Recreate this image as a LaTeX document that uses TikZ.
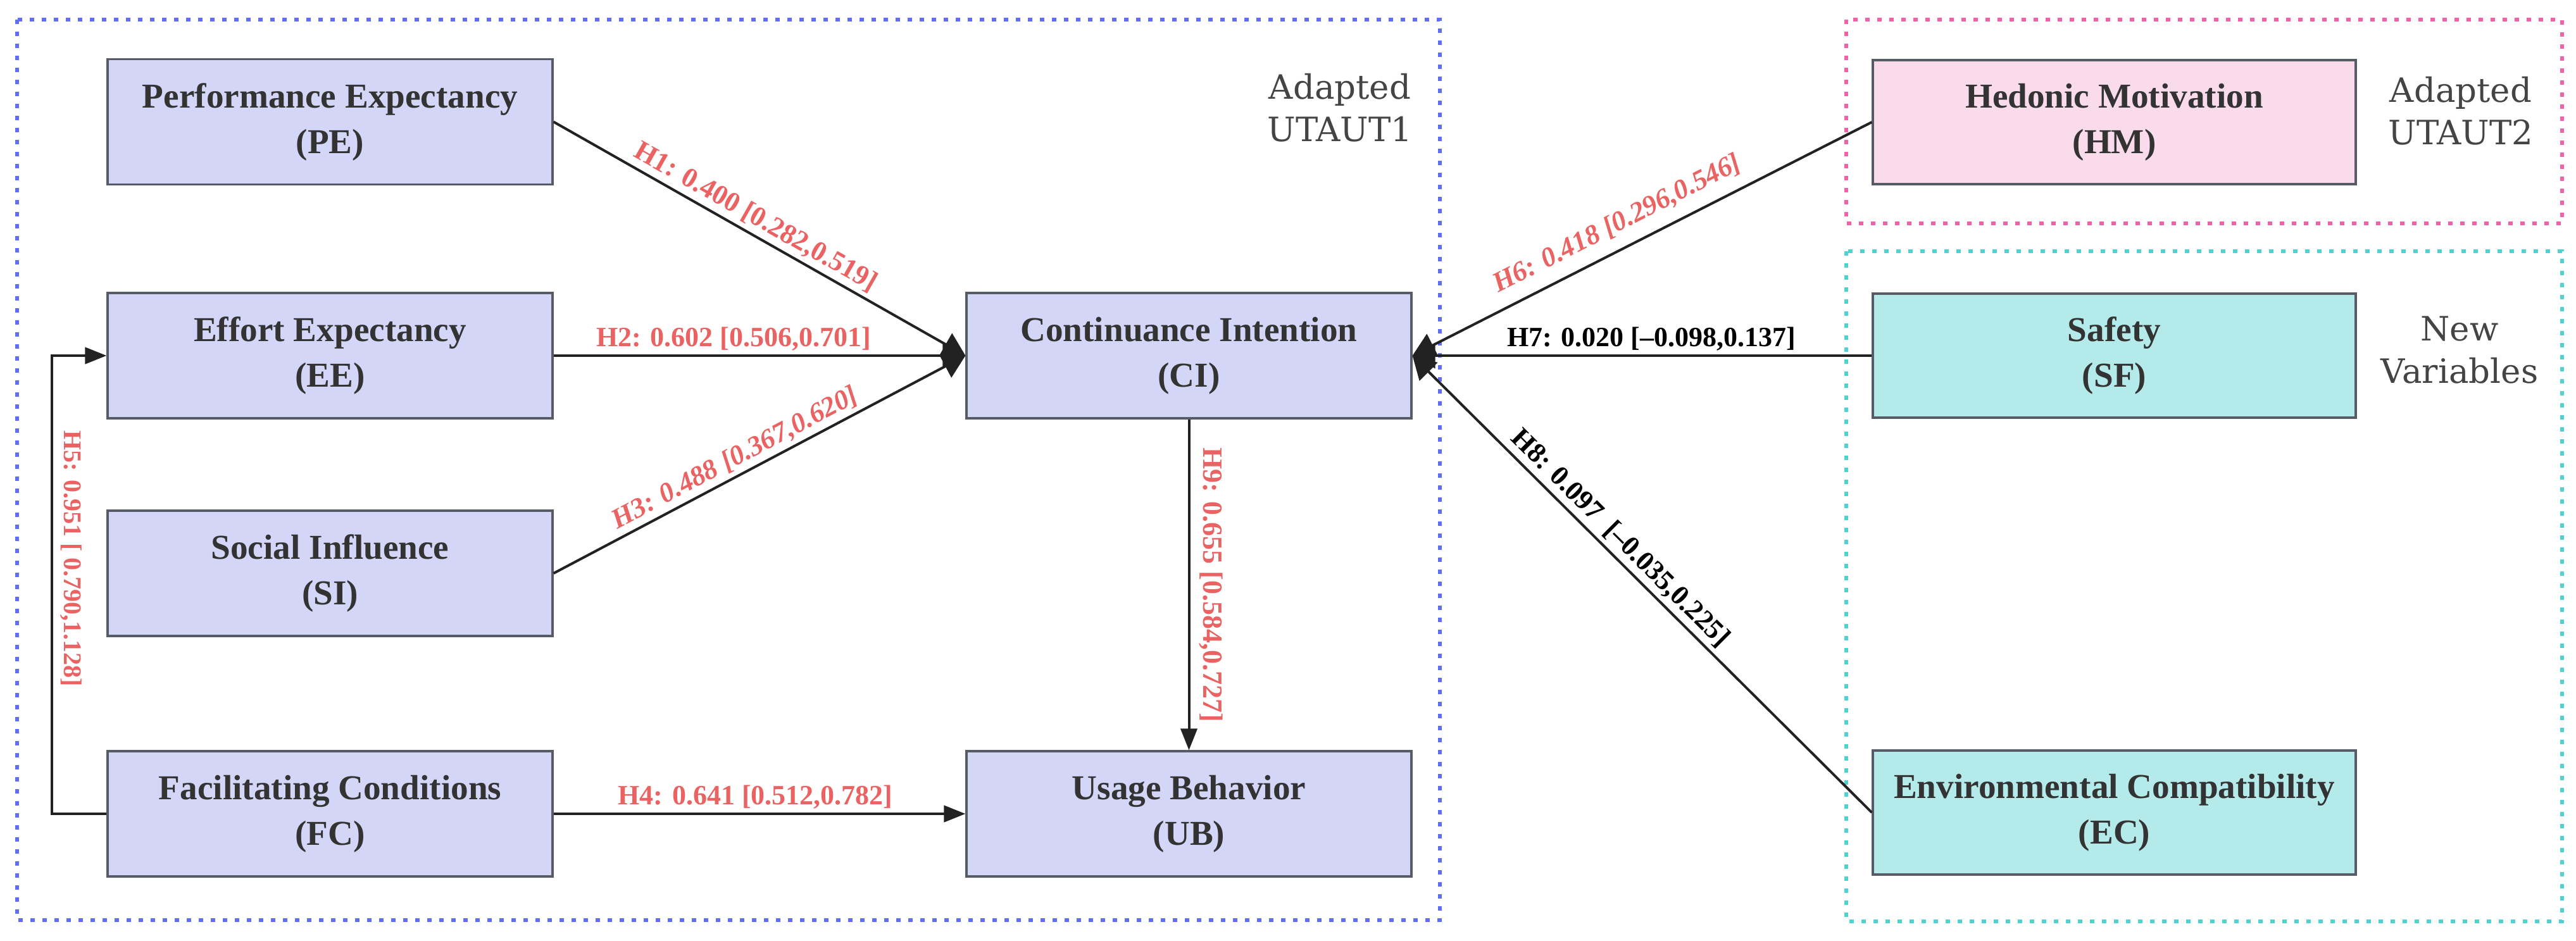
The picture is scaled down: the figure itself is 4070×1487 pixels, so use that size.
\documentclass[tikz,border=0pt]{standalone}
\usepackage{fontspec}
\setmainfont{Liberation Serif}
\newfontfamily\dvs{DejaVu Serif}
\usetikzlibrary{arrows.meta}
\definecolor{boxblue}{HTML}{D3D6F7}
\definecolor{boxpink}{HTML}{F9DBEC}
\definecolor{boxteal}{HTML}{B5EAEA}
\definecolor{boxline}{HTML}{565B66}
\definecolor{txt}{HTML}{333333}
\definecolor{grptxt}{HTML}{444444}
\definecolor{lblred}{HTML}{EA6262}
\definecolor{conncol}{HTML}{222222}
\definecolor{dotblue}{HTML}{5F6EF5}
\definecolor{dotpink}{HTML}{F062A8}
\definecolor{dotteal}{HTML}{50D2D2}
\begin{document}
\begin{tikzpicture}[x=0.25pt,y=-0.25pt,
  box/.style={draw=boxline, line width=0.8pt, minimum width=175.75pt, minimum height=49.5pt,
    inner sep=0pt, align=center, text=txt, font=\fontsize{13.8}{18}\selectfont\bfseries},
  widebox/.style={box, minimum width=190.75pt, minimum height=49pt},
  region/.style={line width=1.5pt, dash pattern=on 1.75pt off 3pt},
  grp/.style={align=center, text=grptxt, font=\dvs\fontsize{13.25}{16.75}\selectfont},
  conn/.style={draw=conncol, line width=1pt},
  bigtip/.style={-{Triangle[length=9pt,width=10pt]}},
  smalltip/.style={-{Triangle[length=8.5pt,width=6.5pt]}},
  lbl/.style={text=lblred, inner sep=1.5pt, font=\fontsize{11}{13}\selectfont\bfseries},
  lblk/.style={lbl, text=black},
  lblit/.style={lbl, font=\fontsize{11}{13}\selectfont\bfseries\itshape},
  lblsm/.style={lbl, font=\fontsize{10}{12}\selectfont\bfseries}
]
\useasboundingbox (0,0) rectangle (4070,1487);

% regions
\draw[region, draw=dotblue] (27,31) rectangle (2275,1454);
\draw[region, draw=dotpink] (2917,31) rectangle (4048,353);
\draw[region, draw=dotteal] (2917,397) rectangle (4048,1456);

% group labels
\node[grp] (g1) at (2117,170) {Adapted\\UTAUT1};
\node[grp] (g2) at (3888,175) {Adapted\\UTAUT2};
\node[grp] (g3) at (3886,553) {New\\Variables};

% boxes
\node[box, fill=boxblue] (PE) at (521.5,192.5) {Performance Expectancy\\(PE)};
\node[box, fill=boxblue] (EE) at (521.5,562) {Effort Expectancy\\(EE)};
\node[box, fill=boxblue] (SI) at (521.5,906) {Social Influence\\(SI)};
\node[box, fill=boxblue] (FC) at (521.5,1286) {Facilitating Conditions\\(FC)};
\node[box, fill=boxblue] (CI) at (1878.5,562) {Continuance Intention\\(CI)};
\node[box, fill=boxblue] (UB) at (1878.5,1286) {Usage Behavior\\(UB)};
\node[widebox, fill=boxpink] (HM) at (3340.5,193) {Hedonic Motivation\\(HM)};
\node[widebox, fill=boxteal] (SF) at (3340.5,562) {Safety\\(SF)};
\node[widebox, fill=boxteal] (EC) at (3340.5,1284) {Environmental Compatibility\\(EC)};

% connectors
\draw[conn, bigtip] (PE.east) -- node[lbl, sloped, above, pos=0.47] {H1: 0.400 [0.282,0.519]} (CI.west);
\draw[conn, bigtip] (EE.east) -- node[lbl, above, pos=0.437] {H2: 0.602 [0.506,0.701]} (CI.west);
\draw[conn, bigtip] (SI.east) -- node[lblit, sloped, above, pos=0.46] {H3: 0.488 [0.367,0.620]} (CI.west);
\draw[conn, smalltip] (FC.east) -- node[lbl, above, pos=0.49] {H4: 0.641 [0.512,0.782]} (UB.west);
\draw[conn, smalltip] (FC.west) -- ++(-86,0) coordinate (h5a) |- (EE.west);
\node[lblsm, rotate=-90] (h5lbl) at (112,883) {H5: 0.951 [ 0.790,1.128]};
\draw[conn, bigtip] (HM.west) -- node[lblit, sloped, above=3pt, pos=0.53] {H6: 0.418 [0.296,0.546]} (CI.east);
\draw[conn, bigtip] (SF.west) -- node[lblk, above, pos=0.48] {H7: 0.020 [–0.098,0.137]} (CI.east);
\draw[conn, bigtip] (EC.west) -- node[lblk, sloped, above, pos=0.574] {H8: 0.097\ \ [–0.035,0.225]} (CI.east);
\draw[conn, smalltip] (CI.south) -- node[lbl, sloped, above=2pt, pos=0.5] {H9: 0.655 [0.584,0.727]} (UB.north);
\end{tikzpicture}
\end{document}
